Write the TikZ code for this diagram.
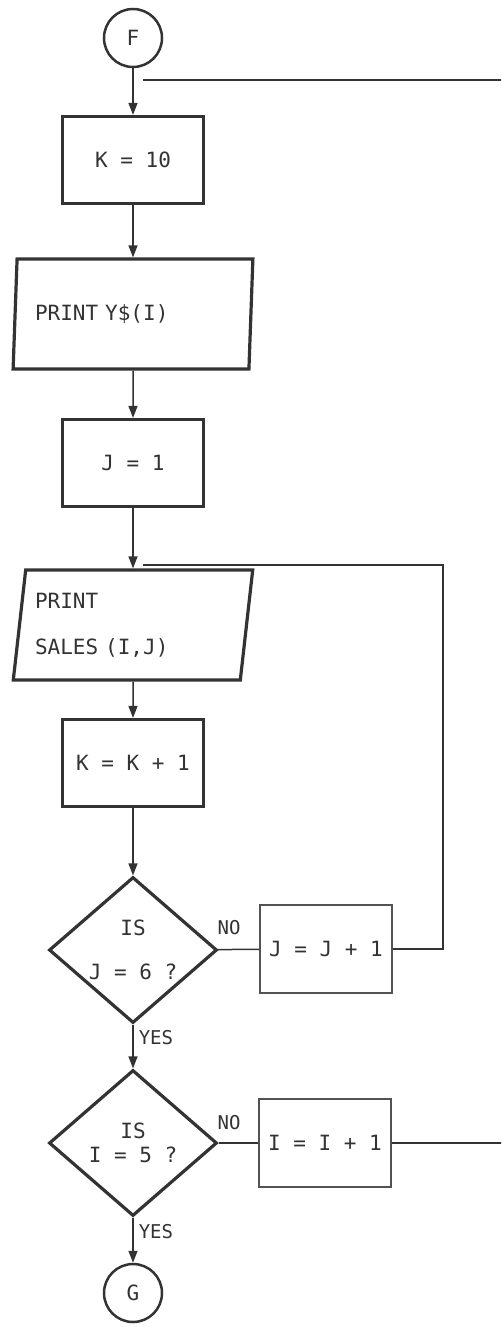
\documentclass[tikz,border=0pt]{standalone}
\usepackage{fontspec}
\setmonofont{DejaVu Sans Mono}
\usetikzlibrary{shapes.geometric,arrows.meta}
\definecolor{ink}{HTML}{333333}
\tikzset{
  flow/.style={
    x=1pt, y=-1pt,
    every node/.style={font=\ttfamily\fontsize{21}{27}\selectfont, text=ink, inner sep=0pt},
    connector/.style={circle, draw=ink, line width=2.5pt, minimum size=58pt},
    process/.style={rectangle, draw=ink, line width=3.2pt, minimum width=141pt, minimum height=87pt},
    io/.style={
        trapezium,
        trapezium left angle=80,
        trapezium right angle=100,
        trapezium stretches=true,
        draw=ink,
        line width=3.2pt,
        minimum width=240pt,
        minimum height=110pt,
        text width=196pt,
        align=left,
    },
    decision/.style={diamond, draw=ink, line width=3.2pt, inner sep=-12pt, minimum width=168pt, minimum height=146pt, align=center},
    update/.style={rectangle, draw=ink!85, line width=1.5pt, minimum width=132pt, minimum height=88pt},
    answer/.style={font=\ttfamily\fontsize{19}{22}\selectfont},
    flowline/.style={draw=ink, line width=1.5pt},
    arrow/.style={flowline, -{Triangle[width=9pt,length=12pt]}}
  }
}

\begin{document}
\begin{tikzpicture}[flow]
  \useasboundingbox (0,0) rectangle (501,1327);
  \clip (0,0) rectangle (501,1327);
  \fill[white] (0,0) rectangle (501,1327);

  \node[connector] (F) at (133,38) {F};
  \node[process] (K10) at (133,160) {K = 10};
  \node[io] (P1) at (133,314) {PRINT Y\$(I)};
  \node[process] (J1) at (133,463) {J = 1};
  \node[io] (P2) at (133,625) {PRINT\\[19pt]SALES (I,J)};
  \node[process] (KK) at (133,763) {K = K + 1};
  \node[decision] (D1) at (133,950) {IS\\[17pt]J = 6 ?};
  \node[update] (JJ) at (326,949) {J = J + 1};
  \node[decision] (D2) at (133,1143) {IS\\[-3pt]I = 5 ?};
  \node[update] (II) at (325,1143) {I = I + 1};
  \node[connector] (G) at (133,1293) {G};

  \node[answer] (no1) at (229,928) {NO};
  \node[answer] (no2) at (229,1123) {NO};

  % loop ends
  \coordinate (innerret) at (143,565);
  \coordinate (innertop) at (443,565);
  \coordinate (outerret) at (143,80);
  \coordinate (outertop) at (512,80);

  \draw[arrow] (F) -- (K10);
  \draw[arrow] (K10) -- (P1);
  \draw[arrow] (P1) -- (J1);
  \draw[arrow] (J1) -- (P2);
  \draw[arrow] (P2) -- (KK);
  \draw[arrow] (KK) -- (D1);
  \draw[arrow] (D1) -- node[answer, pos=0.3, right=5pt] (yes1) {YES} (D2);
  \draw[arrow] (D2) -- node[answer, pos=0.3, right=5pt] (yes2) {YES} (G);

  \draw[flowline] (D1) -- (JJ);
  \draw[flowline] (D2) -- (II);
  \draw[flowline] (JJ) -- (JJ -| innertop) -- (innertop) -- (innerret);
  \draw[flowline] (II) -- (II -| outertop) -- (outertop) -- (outerret);
\end{tikzpicture}
\end{document}
